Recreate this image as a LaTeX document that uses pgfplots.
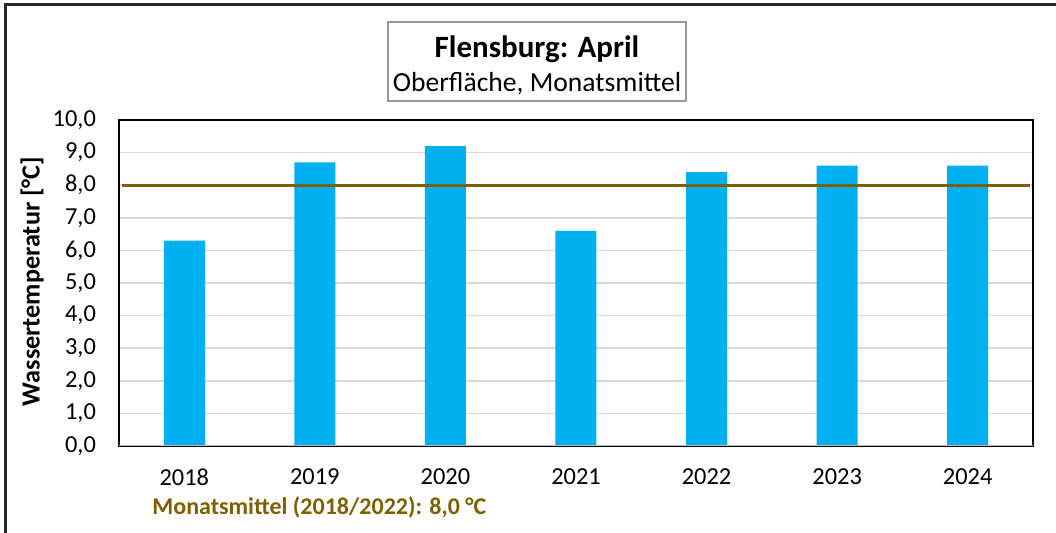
\documentclass[border=0pt]{standalone}
\usepackage{fontspec}
\setmainfont{Carlito}
\usepackage{pgfplots}
\pgfplotsset{compat=1.18}
\definecolor{barblue}{RGB}{0,176,240}
\definecolor{meanbrown}{RGB}{127,96,0}
\definecolor{gridgray}{RGB}{217,217,217}
\begin{document}
\begin{tikzpicture}[x=1pt,y=1pt]
\begin{axis}[
  name=ax,
  width=457pt, height=163pt, scale only axis,
  xmin=-0.5, xmax=6.5, ymin=0, ymax=10,
  xtick={0,...,6},
  xticklabels={2018,2019,2020,2021,2022,2023,2024},
  ytick={0,1,...,10},
  major tick length=0pt,
  ymajorgrids, grid style={gridgray, line width=0.75pt},
  axis line style={black, line width=0.8pt},
  tick label style={font=\fontsize{12.2}{14}\selectfont},
  yticklabel style={xshift=-8pt,
    /pgf/number format/.cd, fixed, fixed zerofill, precision=1,
    use comma, assume math mode=true},
  xticklabel style={yshift=-8pt},
]
\addplot[ybar, bar width=20.5pt, fill=barblue, draw=none] coordinates {
  (0,6.3)(1,8.7)(2,9.2)(3,6.6)(4,8.4)(5,8.6)(6,8.6)};
% Monatsmittel 2018/2022
\addplot[meanbrown, line width=1.5pt] coordinates {(-0.48,8.0)(6.48,8.0)};
\draw[gray!55, line width=0.8pt] (rel axis cs:0,0) -- (rel axis cs:1,0);
\end{axis}
\begin{scope}[shift={(ax.south west)}]
\useasboundingbox (-59.5,-43.5) rectangle (468.5,223);
% outer chart frame (left and top only visible)
\draw[line width=1.5pt, black!85] (-56.5,-43.5) -- (-56.5,220.5) -- (468.5,220.5);
\node[rotate=90, font=\fontsize{13.1}{15}\selectfont\bfseries] at (-43.5,82.25)
  {Wassertemperatur [°C]};
\node[draw=gray!80, line width=1pt, minimum width=149pt, minimum height=39.5pt,
  inner sep=0pt, fill=white] at (209,192.25) {};
\node[font=\fontsize{15.5}{18}\selectfont\bfseries] at (209,198.5) {Flensburg: April};
\node[font=\fontsize{13.8}{16}\selectfont] at (209,181) {Oberfläche, Monatsmittel};
\node[anchor=west, inner sep=0pt, text=meanbrown,
  font=\fontsize{12}{14}\selectfont\bfseries] at (16.5,-30.5)
  {Monatsmittel (2018/2022): 8,0 °C};
\end{scope}
\end{tikzpicture}
\end{document}
